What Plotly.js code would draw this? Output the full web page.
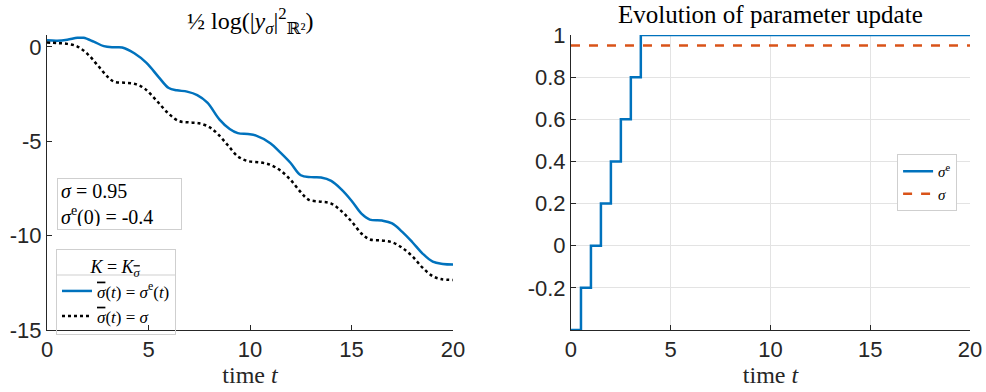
<!DOCTYPE html>
<html>
<head>
<meta charset="utf-8">
<script src="https://cdn.plot.ly/plotly-3.0.1.min.js"></script>
<style>html,body{margin:0;padding:0;background:#fff;}#chart{width:986px;height:392px;}</style>
</head>
<body>
<div id="chart"></div>
<script>
// ---- Left panel data: 1/2 log(|y_sigma|^2) ----
var tAdaptive = [0, 0.5, 1.0, 1.5, 1.8, 2.3, 2.8, 3.3, 3.7, 4.3, 4.9, 5.5, 6.0, 6.4, 6.9, 7.4, 7.9, 8.5, 9.0, 9.4, 9.9, 10.3, 11.0, 11.5, 12.0, 12.5, 13.0, 13.5, 14.0, 14.5, 15.0, 15.5, 15.9, 16.5, 17.0, 17.5, 18.0, 18.5, 19.0, 19.5, 20];
var yAdaptive = [0.35, 0.33, 0.38, 0.48, 0.48, 0.28, 0.04, -0.02, -0.03, -0.34, -0.85, -1.6, -2.18, -2.3, -2.37, -2.55, -2.95, -3.85, -4.35, -4.57, -4.62, -4.7, -5.1, -5.6, -6.15, -6.8, -6.9, -6.92, -7.1, -7.55, -8.15, -8.85, -9.15, -9.2, -9.35, -9.8, -10.35, -10.95, -11.38, -11.5, -11.53];
var tFixed = [0, 0.5, 1.0, 1.5, 2.0, 2.5, 3.0, 3.3, 3.8, 4.3, 4.8, 5.4, 6.0, 6.5, 7.0, 7.5, 8.0, 8.4, 8.9, 9.4, 9.9, 10.5, 11.0, 11.5, 12.0, 12.5, 12.9, 13.5, 14.0, 14.5, 15.0, 15.5, 15.9, 16.5, 17.0, 17.5, 18.0, 18.5, 19.0, 19.4, 20];
var yFixed = [0.23, 0.2, 0.16, 0.02, -0.38, -0.98, -1.6, -1.84, -1.9, -1.95, -2.2, -2.85, -3.55, -3.93, -4.0, -4.05, -4.25, -4.6, -5.2, -5.8, -6.05, -6.12, -6.25, -6.55, -7.05, -7.7, -8.1, -8.2, -8.3, -8.7, -9.25, -9.9, -10.2, -10.26, -10.35, -10.65, -11.1, -11.7, -12.15, -12.3, -12.35];

// ---- Right panel data: parameter update ----
var tSigmaE = [0, 0.5, 1.0, 1.5, 2.0, 2.5, 3.0, 3.5, 20];
var sigmaE = [-0.4, -0.2, 0, 0.2, 0.4, 0.6, 0.8, 1, 1];
var tSigma = [0, 20];
var sigmaConst = [0.95, 0.95];

var xTicks = [0, 5, 10, 15, 20];
var xTickText = ["0", "5", "10", "15", "20"];
var yTicksL = [0, -5, -10, -15];
var yTickTextL = ["0", "-5", "-10", "-15"];
var yTicksR = [-0.2, 0, 0.2, 0.4, 0.6, 0.8, 1];
var yTickTextR = ["-0.2", "0", "0.2", "0.4", "0.6", "0.8", "1"];

var blue = '#0072BD', orange = '#D95319', axc = '#262626';
var serif = 'Liberation Serif, DejaVu Serif, serif';
var sans = 'Liberation Sans, Arial, sans-serif';
var sbar = '<span style="text-decoration:overline"><i>σ</i></span>';

var traces = [
  {x: tAdaptive, y: yAdaptive, xaxis: 'x', yaxis: 'y', mode: 'lines',
   line: {color: blue, width: 2.5, shape: 'spline', smoothing: 1},
   name: sbar + '(<i>t</i>) = <i>σ</i><sup>e</sup>(<i>t</i>)', legend: 'legend'},
  {x: tFixed, y: yFixed, xaxis: 'x', yaxis: 'y', mode: 'lines',
   line: {color: '#000000', width: 2.5, dash: 'dot', shape: 'spline', smoothing: 1},
   name: sbar + '(<i>t</i>) = <i>σ</i>', legend: 'legend'},
  {x: tSigmaE, y: sigmaE, xaxis: 'x2', yaxis: 'y2', mode: 'lines',
   line: {color: blue, width: 2.5, shape: 'hv'},
   name: '<i>σ</i><sup>e</sup>', legend: 'legend2'},
  {x: tSigma, y: sigmaConst, xaxis: 'x2', yaxis: 'y2', mode: 'lines',
   line: {color: orange, width: 2.5, dash: 'dash'},
   name: '<i>σ</i>', legend: 'legend2'}
];

var tickFont = {family: sans, size: 22, color: axc};
var axTitleFont = {family: serif, size: 24, color: axc};

var layout = {
  width: 986, height: 392,
  margin: {l: 47, r: 16, t: 35, b: 62},
  paper_bgcolor: '#ffffff', plot_bgcolor: '#ffffff',
  showlegend: true,
  xaxis: {domain: [0, 0.4399], range: [0, 20], tickvals: xTicks, ticktext: xTickText,
          ticks: 'inside', ticklen: 5, tickcolor: axc, showline: true, linecolor: axc, linewidth: 1,
          showgrid: false, zeroline: false, tickfont: tickFont, automargin: false,
          title: {text: 'time <i>t</i>', font: axTitleFont, standoff: 1}},
  yaxis: {domain: [0, 1], range: [-15, 0.63], tickvals: yTicksL, ticktext: yTickTextL,
          ticks: 'inside', ticklen: 5, tickcolor: axc, showline: true, linecolor: axc, linewidth: 1,
          showgrid: false, zeroline: false, tickfont: tickFont, automargin: false},
  xaxis2: {domain: [0.5677, 1], range: [0, 20], anchor: 'y2', tickvals: xTicks, ticktext: xTickText,
          ticks: 'inside', ticklen: 5, tickcolor: axc, showline: true, linecolor: axc, linewidth: 1,
          showgrid: true, gridcolor: '#e3e3e3', gridwidth: 1, zeroline: false, tickfont: tickFont, automargin: false,
          title: {text: 'time <i>t</i>', font: axTitleFont, standoff: 1}},
  yaxis2: {domain: [0, 1], range: [-0.4, 1], anchor: 'x2', tickvals: yTicksR, ticktext: yTickTextR,
          ticks: 'inside', ticklen: 5, tickcolor: axc, showline: true, linecolor: axc, linewidth: 1,
          showgrid: true, gridcolor: '#e3e3e3', gridwidth: 1, zeroline: false, tickfont: tickFont, automargin: false},
  legend: {x: 0.00975, y: 0.2746, xanchor: 'left', yanchor: 'top',
           bgcolor: 'rgba(255,255,255,0)', bordercolor: '#cfcfcf', borderwidth: 1,
           font: {family: serif, size: 17, color: '#000'},
           title: {text: '<i>K</i> = <i>K</i><sub>' + sbar + '</sub>', side: 'top center', font: {family: serif, size: 18, color: '#000'}},
           tracegroupgap: 0, itemwidth: 30},
  legend2: {x: 0.921, y: 0.5966, xanchor: 'left', yanchor: 'top',
           bgcolor: '#ffffff', bordercolor: '#cfcfcf', borderwidth: 1,
           font: {family: serif, size: 15, color: '#000'}, tracegroupgap: 0, itemwidth: 30},
  shapes: [
    {type: 'line', xref: 'paper', yref: 'paper', x0: 0.0098, x1: 0.1387, y0: 0.1864, y1: 0.1864,
     line: {color: '#cfcfcf', width: 1}}
  ],
  annotations: [
    {xref: 'x domain', yref: 'paper', x: 0.5, y: 1.047, xanchor: 'center', yanchor: 'middle', showarrow: false,
     text: '½ log(|<i>y</i><sub><i>σ</i></sub>|<sup>2</sup><sub>ℝ²</sub>)',
     font: {family: serif, size: 24, color: '#000'}},
    {xref: 'x2 domain', yref: 'paper', x: 0.5, y: 1.068, xanchor: 'center', yanchor: 'middle', showarrow: false,
     text: 'Evolution of parameter update',
     font: {family: serif, size: 25, color: '#000'}},
    {xref: 'x domain', yref: 'y domain', x: 0.0246, y: 0.515, xanchor: 'left', yanchor: 'top', showarrow: false,
     align: 'left', valign: 'middle', width: 117, height: 44,
     text: '<i>σ</i> = 0.95<br><i>σ</i><sup>e</sup>(0) = -0.4',
     font: {family: serif, size: 20, color: '#000'},
     bgcolor: '#ffffff', bordercolor: '#cfcfcf', borderwidth: 1, borderpad: 3}
  ]
};

Plotly.newPlot('chart', traces, layout, {staticPlot: true, displayModeBar: false});
</script>
</body>
</html>
